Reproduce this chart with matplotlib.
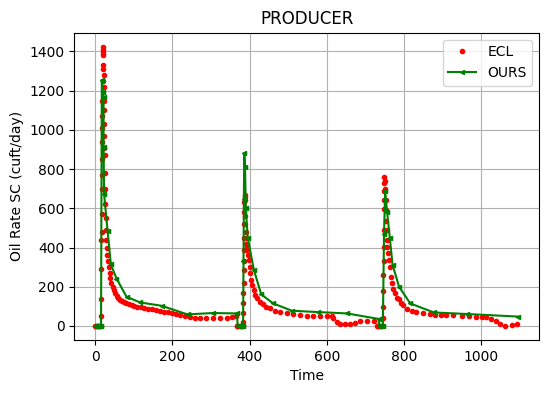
import matplotlib
matplotlib.use('Agg')
import matplotlib.pyplot as plt

# ECL reference solution (red dots)
ecl_time = [0, 2, 4, 6, 8, 10, 12, 14,
            15, 15.3, 15.6, 15.9, 16.2, 16.5, 16.8, 17.1, 17.4, 17.7, 18, 18.3, 18.6, 18.9, 19.2, 19.5, 19.8,
            20.2, 20.6, 21, 21.4, 21.8, 22.2, 22.6, 23, 23.4, 23.8, 24.2, 24.8, 25.4, 26, 27, 28, 29, 30,
            31.5, 33, 35, 37, 39, 42, 45, 48, 52, 56, 60, 65, 70, 75, 80, 87, 94, 101, 109, 118, 127, 137,
            148, 158, 168, 178, 188, 198, 209, 220, 232, 245, 258, 272, 288, 305, 322, 340, 355, 364,
            366, 368, 371, 374, 377, 380, 382,
            383, 383.3, 383.6, 383.9, 384.2, 384.5, 384.8, 385.1, 385.4, 385.7, 386, 386.3, 386.6,
            387, 387.5, 388, 388.5, 389, 389.5, 390, 391, 392, 393, 395, 398, 400, 402, 404, 407, 411, 415,
            419, 426, 435, 443, 452, 465, 478, 496, 513, 530, 548, 565, 583, 600, 613, 617, 626, 635, 648,
            661, 674, 687, 704, 721,
            729, 732, 735, 738, 741, 744,
            745.5, 745.8, 746.1, 746.4, 746.7, 747, 747.3, 747.6, 747.9, 748.2, 748.5, 749,
            750, 751, 752, 753, 754, 755, 756, 757, 759, 761, 763, 766, 769, 772, 776, 781, 786, 792, 798,
            807, 820, 832, 849, 866, 879, 896, 909, 926, 951, 968, 986, 1003, 1013, 1026, 1037, 1049, 1062,
            1079, 1092]
ecl_rate = [0, 0, 0, 0, 0, 0, 0, 0,
            50, 140, 290, 440, 480, 570, 700, 770, 850, 940, 1010, 1070, 1150, 1250, 1310, 1380, 1425,
            1410, 1390, 1330, 1280, 1220, 1150, 1100, 1030, 970, 910, 870, 780, 700, 620, 550, 490, 440, 400,
            360, 330, 300, 270, 245, 220, 200, 185, 170, 155, 142, 135, 128, 120, 115, 110, 105, 101, 98, 95, 92, 88,
            85, 80, 76, 73, 70, 66, 62, 56, 50, 45, 42, 42, 42, 42, 42, 42, 46, 51,
            0, 0, 0, 0, 0, 0, 0,
            22, 64, 115, 166, 217, 285, 330, 390, 450, 520, 580, 630, 670,
            660, 640, 600, 560, 520, 480, 450, 420, 400, 386, 360, 336, 300, 268, 234, 208, 183, 158,
            141, 124, 110, 98, 90, 78, 71, 64, 61, 56, 51, 51, 51, 51, 53, 39, 22, 10, 8,
            10, 17, 24, 26, 26,
            0, 0, 0, 0, 0, 0,
            39, 99, 180, 260, 330, 405, 490, 596, 643, 690, 728, 759,
            740, 700, 643, 592, 533, 490, 439, 405, 371, 337, 303, 252, 218, 187, 167, 141, 138, 118, 105,
            88, 75, 72, 67, 60, 58, 55, 55, 55, 51, 50, 48, 47, 47, 38, 27, 10, 2,
            5, 10]

# our solution (green line)
ours_time = [0, 3, 6, 9, 12, 15, 17, 20, 21.5, 21.5, 23, 32, 40.5, 55, 81, 116, 172, 239, 304, 367,
             369, 372, 375, 378, 381, 383, 384, 385, 386, 388, 390, 395, 411, 430, 461, 509, 576, 652, 734,
             736, 739, 742, 745, 748, 751, 756, 763, 770, 787, 816, 877, 963, 1095]
ours_rate = [0, 0, 0, 0, 0, 0, 1254, 1192, 1166, 912, 671, 483, 314, 242, 149, 120, 103, 59, 66, 64,
             0, 0, 0, 0, 0, 0, 330, 650, 880, 810, 600, 450, 285, 161, 115, 78, 71, 64, 36,
             0, 0, 0, 0, 470, 690, 580, 450, 313, 200, 115, 69, 61, 48]

fig = plt.figure(figsize=(5.49, 3.93), dpi=100)
ax = fig.add_subplot(111)
fig.subplots_adjust(left=0.135, right=0.982, top=0.917, bottom=0.135)

ax.plot(ecl_time, ecl_rate, 'r.', label='ECL')
ax.plot(ours_time, ours_rate, 'g-', marker='<', markersize=3, label='OURS')
ax.set_title('PRODUCER')
ax.set_xlabel('Time')
ax.set_ylabel('Oil Rate SC (cuft/day)')
ax.grid(True)
ax.legend(loc='upper right')

plt.savefig('out.png', dpi=100)
